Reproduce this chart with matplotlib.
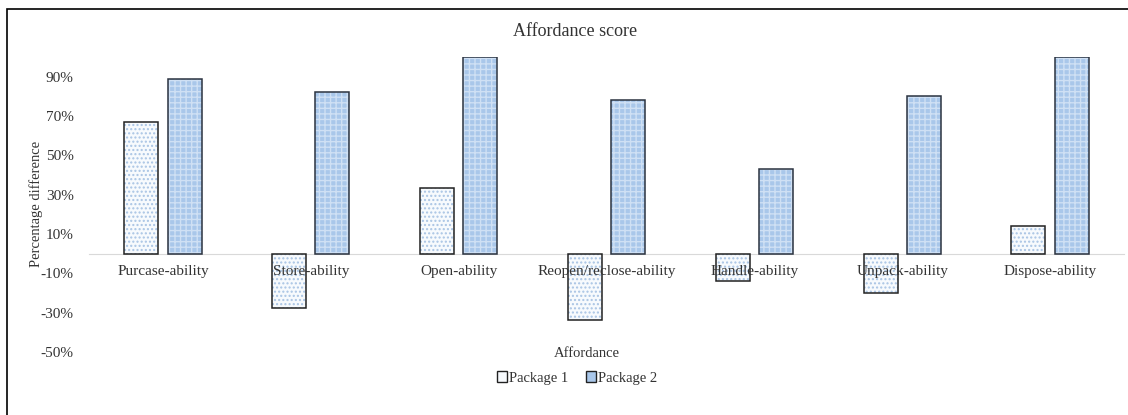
import numpy as np
import matplotlib.pyplot as plt
from matplotlib.patches import Rectangle, Patch
from matplotlib.ticker import PercentFormatter

plt.rcParams['font.family'] = ['Liberation Serif', 'DejaVu Serif']
plt.rcParams['axes.unicode_minus'] = False

categories = ['Purcase-ability', 'Store-ability', 'Open-ability', 'Reopen/reclose-ability',
              'Handle-ability', 'Unpack-ability', 'Dispose-ability']
package1 = [0.67, -0.275, 0.335, -0.335, -0.14, -0.20, 0.14]
package2 = [0.89, 0.82, 1.00, 0.78, 0.43, 0.80, 1.00]
yticks = [-0.5, -0.3, -0.1, 0.1, 0.3, 0.5, 0.7, 0.9]

W, H = 1128, 415
fig = plt.figure(figsize=(W / 100, H / 100), dpi=100)
ax = fig.add_axes([89 / W, 1 - 352 / H, (1124 - 89) / W, (352 - 57) / H])

x = np.arange(len(categories))
bw = 0.23
off = 0.146

# fill + hatch first, then black outline on top
ax.bar(x - off, package1, bw, color='#f7fafd', edgecolor='#a9c4e4', hatch='....', linewidth=0)
ax.bar(x - off, package1, bw, fill=False, edgecolor='#222222', linewidth=1.1)
ax.bar(x + off, package2, bw, color='#a9c7ea', edgecolor='#cfe0f4', hatch='+++', linewidth=0)
ax.bar(x + off, package2, bw, fill=False, edgecolor='#2b3340', linewidth=1.1)

ax.set_xlim(-0.5, len(categories) - 0.5)
ax.set_ylim(-0.5, 1.0)
ax.set_yticks(yticks)
ax.yaxis.set_major_formatter(PercentFormatter(1.0, decimals=0))
ax.set_xticks(x)
ax.set_xticklabels(categories)

for s in ['top', 'right', 'left']:
    ax.spines[s].set_visible(False)
ax.spines['bottom'].set_position(('data', 0))
ax.spines['bottom'].set_color('#d9d9d9')
ax.spines['bottom'].set_zorder(0)
ax.tick_params(axis='both', length=0, labelsize=11, colors='#333333')
ax.tick_params(axis='x', pad=8)
ax.tick_params(axis='y', pad=11)

fig.text(575 / W, 1 - 32 / H, 'Affordance score', ha='center', va='center', fontsize=13, color='#333333')
fig.text(36 / W, 1 - 204 / H, 'Percentage difference', ha='center', va='center', rotation=90,
         fontsize=10.5, color='#333333')
fig.text(587 / W, 1 - 353 / H, 'Affordance', ha='center', va='center', fontsize=10.5, color='#333333')

handles = [Patch(facecolor='#f7fafd', edgecolor='#222222', label='Package 1'),
           Patch(facecolor='#a9c7ea', edgecolor='#222222', label='Package 2')]
fig.legend(handles=handles, loc='center', bbox_to_anchor=(577 / W, 1 - 378 / H), ncol=2, frameon=False,
           fontsize=10.5, handlelength=0.7, handleheight=0.7, handletextpad=0.15, columnspacing=1.2,
           labelcolor='#333333')

# chart border (only top and left sides fall inside the image)
fig.add_artist(Rectangle((7 / W, -0.1), 1.2, 1 - 9 / H + 0.1, transform=fig.transFigure,
                         fill=False, edgecolor='black', linewidth=1.2))

fig.savefig('out.png', dpi=100)
